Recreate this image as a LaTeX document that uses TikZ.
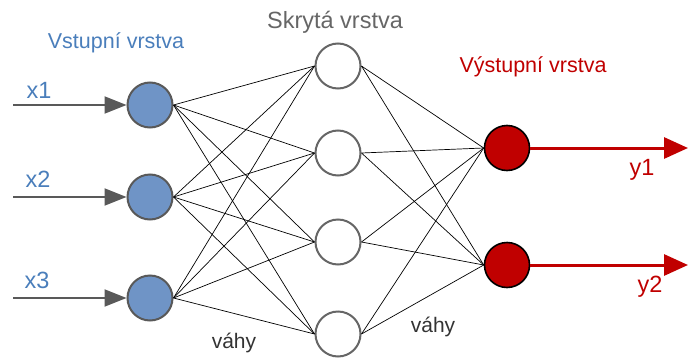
\documentclass[tikz,border=0pt]{standalone}
\usepackage{fontspec}
\setmainfont{Liberation Sans}
\usepackage{xcolor}
\usetikzlibrary{arrows.meta, positioning, calc}

\definecolor{inblue}{HTML}{6F94C6}
\definecolor{txtblue}{HTML}{4A7EBB}
\definecolor{outred}{HTML}{C00000}

\tikzset{
    neuron/.style={circle, minimum size=45pt, inner sep=0pt, line width=2pt},
    inneuron/.style={neuron, draw=black!65, fill=inblue},
    hidneuron/.style={neuron, draw=black!60, fill=white},
    outneuron/.style={neuron, draw=black, line width=1.6pt, fill=outred},
    weight/.style={black, line width=0.7pt},
    inarrow/.style={draw=black!65, line width=2pt, -{Triangle[length=22pt,width=17pt]}},
    outarrow/.style={draw=outred, line width=3pt, -{Triangle[length=24pt,width=21pt]}}
}

\begin{document}
\begin{tikzpicture}[x=1pt, y=-1pt]
        \useasboundingbox (0,0) rectangle (688,359);

        % vrstvy
        \node[inneuron] at (150,105) (in1) {};
        \node[inneuron] at (150,197) (in2) {};
        \node[inneuron] at (150,298) (in3) {};

        \node[hidneuron] at (338,66) (hid1) {};
        \node[hidneuron] at (338,153) (hid2) {};
        \node[hidneuron] at (338,242) (hid3) {};
        \node[hidneuron] at (338,334) (hid4) {};

        \node[outneuron] at (507,148) (out1) {};
        \node[outneuron] at (507,265) (out2) {};

        % vahy
        \foreach \i in {1,2,3}
            \foreach \h in {1,2,3,4}
                \draw[weight] (in\i.east) -- (hid\h.west);
        \foreach \h in {1,2,3,4}
            \foreach \o in {1,2}
                \draw[weight] (hid\h.east) -- (out\o.west);

        % vstupy a vystupy
        \coordinate (x1) at (13,105);
        \coordinate (x2) at (13,197);
        \coordinate (x3) at (13,298);
        \draw[inarrow] (x1) -- (in1);
        \draw[inarrow] (x2) -- (in2);
        \draw[inarrow] (x3) -- (in3);

        \coordinate (y1) at (688,148);
        \coordinate (y2) at (688,265);
        \draw[outarrow] (out1) -- (y1);
        \draw[outarrow] (out2) -- (y2);

        % popisky
        \node[txtblue, font=\fontsize{23.5}{27}\selectfont] at (39,90) (lx1) {x1};
        \node[txtblue, font=\fontsize{23.5}{27}\selectfont] at (38,179) (lx2) {x2};
        \node[txtblue, font=\fontsize{23.5}{27}\selectfont] at (37,280) (lx3) {x3};
        \node[outred, font=\fontsize{23.5}{27}\selectfont] at (642,170) (ly1) {y1};
        \node[outred, font=\fontsize{23.5}{27}\selectfont] at (650,287) (ly2) {y2};

        \node[txtblue, font=\fontsize{21.5}{25}\selectfont] at (116,43) (tin) {Vstupní vrstva};
        \node[black!60, font=\fontsize{23.5}{27}\selectfont] at (335,22) (thid) {Skrytá vrstva};
        \node[outred, font=\fontsize{21.5}{25}\selectfont] at (533,67) (tout) {Výstupní vrstva};

        \node[black!80, font=\fontsize{21}{25}\selectfont] at (234,343) (w1) {váhy};
        \node[black!80, font=\fontsize{21}{25}\selectfont] at (433,327) (w2) {váhy};
    \end{tikzpicture}
\end{document}
